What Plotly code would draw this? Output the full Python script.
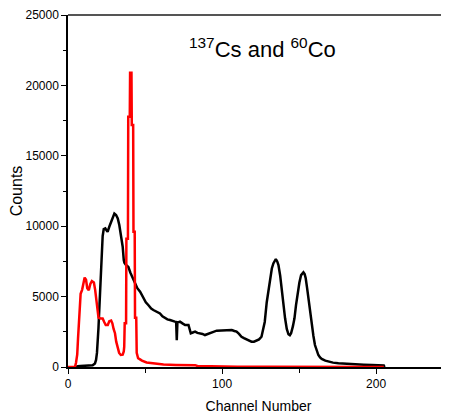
import plotly.graph_objects as go

# 60Co-style spectrum (black)
black_ch = [5, 6.4, 8, 12, 16, 17.5, 18.2, 18.8, 19.3, 19.8, 20.3, 21, 21.5, 21.9, 22.5, 23.2, 24.2, 25.0, 25.7,
            26.8, 27.9, 29, 30.1, 31.2, 32.3, 33.3, 34.4, 35.5, 36.2, 36.6, 37.7, 39.2, 40.5, 42, 43.5, 45,
            46.8, 48.9, 50.5, 52.1, 54, 55.4, 57.5, 59.7, 61.3, 62.9, 64.5, 66.2, 68, 69.4, 70.2, 70.6, 71.0,
            72.7, 74.3, 76, 78.2, 79.7, 81, 82.5, 84, 85.7, 87.3, 88.9, 90.5, 92.2, 94.4, 96.5, 98.6, 100.8,
            103, 104.5, 106.3, 108, 109.4, 111, 112.6, 114.2, 115.9, 117.5, 119.1, 120.7, 122.3, 124, 125.6,
            126.8, 127.7, 129, 130.6, 131.2, 132.3, 133.3, 134.9, 135.8, 136.6, 137.7, 138.8, 139.8, 140.9,
            142, 143.1, 144, 144.8, 146, 147, 148, 149.1, 150.2, 151.3, 152.8, 153.6, 154.3, 155.2, 156,
            157.1, 158.2, 159.3, 160.3, 161.4, 162.5, 163.6, 164.7, 167, 169, 172, 175.5, 180, 186.3, 192,
            197.2, 201, 205, 205.5]
black_counts = [0, 60, 70, 80, 120, 250, 500, 1000, 1700, 2800, 4050, 5900, 6800, 7600, 9300, 9800, 9850, 9700, 9600,
                9960, 10300, 10550, 10900, 10800, 10550, 10080, 9250, 8540, 7600, 7400, 7240, 7100, 6700, 6300, 5940, 5600,
                5350, 4880, 4600, 4400, 4150, 4050, 3900, 3800, 3600, 3460, 3380, 3340, 3250, 3220, 3200, 1900, 3150,
                3220, 3100, 2980, 2980, 2390, 2450, 2510, 2420, 2390, 2350, 2270, 2350, 2390, 2500, 2580, 2600, 2630,
                2600, 2660, 2630, 2560, 2510, 2350, 2150, 2050, 1960, 1850, 1800, 1800, 1870, 1960, 2150,
                2800, 3200, 4600, 5700, 6300, 7000, 7360, 7670, 7500, 7240, 6500, 5350, 4500, 3460,
                2700, 2320, 2250, 2390, 2900, 3460, 4400, 5350, 6000, 6530, 6720, 6600, 6300, 5600, 4880,
                3900, 2980, 2200, 1560, 1150, 850, 680, 570, 450, 380, 310, 260, 220, 190, 160,
                140, 120, 100, 0]

# 137Cs-style spectrum (red)
red_ch = [0, 4.5, 5.2, 6.0, 6.5, 7.0, 7.6, 8.2, 9.2, 10.0, 10.8, 11.7, 12.5, 13.5, 14.5, 15.5, 16.8, 17.6, 18.3,
          19.0, 19.8, 21.0, 22.5, 23.5, 24.5, 25.8, 26.8, 28.0, 28.8, 29.6, 30.5, 31.3, 32.2, 33.2, 34.3, 35.5,
          36.2, 36.5, 36.8, 37.7, 37.9, 38.9, 39.1, 40.1, 40.3, 41.2, 41.4, 42.3, 42.5, 43.3, 43.5, 44.3, 44.6,
          45.5, 46.5, 48, 51, 55, 62, 70, 77, 80, 82.5, 84, 95, 110, 130, 150, 180, 205]
red_counts = [0, 0, 300, 900, 2000, 3200, 4200, 5200, 5500, 6000, 6350, 6200, 5600, 5450, 5900, 6100, 6000, 5500, 4800,
              3900, 3500, 3450, 3450, 3200, 2980, 2980, 3250, 3300, 3100, 2700, 2400, 1800, 1300, 1000, 850, 870,
              1100, 1440, 3100, 3100, 9100, 9100, 17770, 17770, 20900, 20900, 17180, 17180, 9600, 9600, 3500, 3500, 1000,
              620, 560, 450, 320, 250, 180, 150, 130, 100, 130, 70, 40, 25, 15, 10, 5, 0]

x_ticks = [0, 100, 200]
y_ticks = [0, 5000, 10000, 15000, 20000, 25000]

FONT = "Liberation Sans, Arial, sans-serif"

fig = go.Figure()
fig.add_trace(go.Scatter(x=black_ch, y=black_counts, mode="lines",
                         line=dict(color="black", width=2.5), showlegend=False))
fig.add_trace(go.Scatter(x=red_ch, y=red_counts, mode="lines",
                         line=dict(color="#ff0000", width=2.5), showlegend=False))

# page body adds an 8px offset, so the figure is sized to fill the rest of the window
fig.update_layout(
    width=441, height=406,
    margin=dict(l=60, r=0, t=7, b=47),
    paper_bgcolor="white", plot_bgcolor="white",
    font=dict(family=FONT, color="black", size=12),
    xaxis=dict(range=[0, 247.3], tickvals=x_ticks, ticktext=[str(v) for v in x_ticks],
               ticks="outside", ticklen=5, tickwidth=1, tickcolor="black",
               minor=dict(tickvals=[50, 150], ticks="outside", ticklen=4, tickcolor="black"),
               showline=True, linecolor="black", linewidth=1.5,
               showgrid=False, zeroline=False,
               title=dict(text="Channel Number", font=dict(size=14), standoff=11)),
    yaxis=dict(range=[0, 25000], tickvals=y_ticks, ticktext=[str(v) for v in y_ticks],
               ticks="outside", ticklen=5, tickwidth=1, tickcolor="black",
               minor=dict(dtick=2500, ticks="outside", ticklen=3, tickcolor="black"),
               showline=True, linecolor="black", linewidth=1.5,
               showgrid=False, zeroline=False,
               title=dict(text="Counts", font=dict(size=16), standoff=4)),
    shapes=[dict(type="line", xref="paper", yref="paper", x0=0, x1=1, y0=1, y1=1,
                 line=dict(color="#555555", width=2))],
    annotations=[dict(text="<sup>137</sup>Cs and <sup>60</sup>Co", xref="paper", yref="paper",
                      x=0.51, y=0.952, showarrow=False, font=dict(size=22, family=FONT))],
)

fig.write_html("out.html")
